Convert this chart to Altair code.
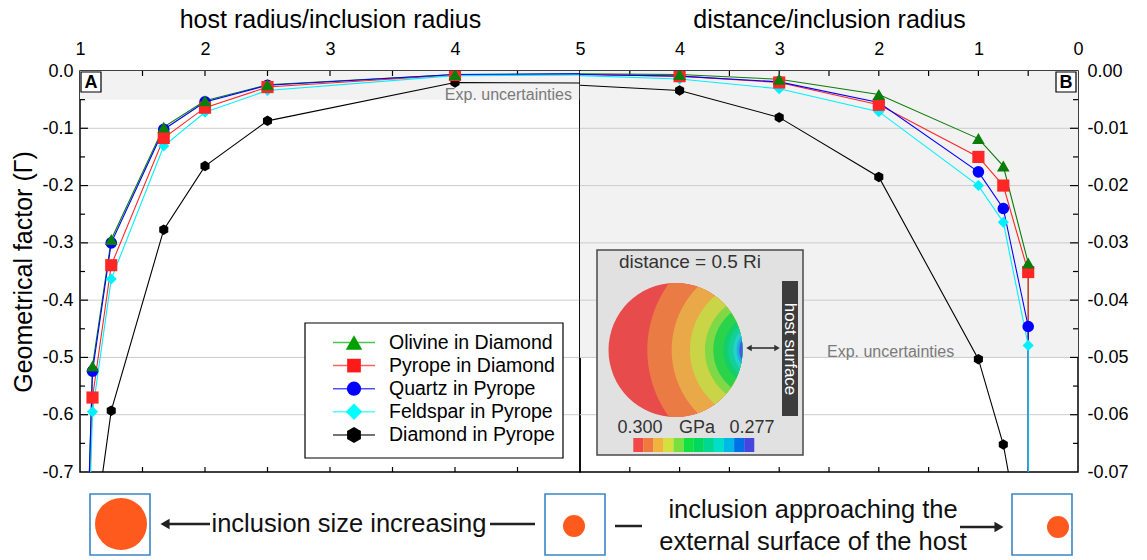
import altair as alt
import numpy as np
import pandas as pd

FONT = "Liberation Sans"

# ---------------- series definitions ----------------
series = ["Olivine in Diamond", "Pyrope in Diamond", "Quartz in Pyrope",
          "Feldspar in Pyrope", "Diamond in Pyrope"]
line_colors = ["#0a7d0a", "#ff2626", "#0000ff", "#00f0ff", "#000000"]
marker_colors = ["#00a000", "#ff1a1a", "#0000ff", "#00ffff", "#000000"]
legend_line_colors = ["#4cc34c", "#ff6060", "#5050ff", "#50ffff", "#444444"]
HEX = "M0,-1L0.866,-0.5L0.866,0.5L0,1L-0.866,0.5L-0.866,-0.5Z"
marker_shapes = ["triangle-up", "square", "circle", "diamond", HEX]
marker_sizes = [160, 110, 120, 160, 150]

# ---------------- panel A: host radius / inclusion radius ----------------
a_x = [1.05, 1.1, 1.25, 1.67, 2.0, 2.5, 4.0, 5.0]
a_olivine = [-0.88, -0.515, -0.294, -0.098, -0.052, -0.024, -0.006, -0.005]
a_pyrope = [-0.92, -0.570, -0.339, -0.117, -0.064, -0.028, -0.007, -0.006]
a_quartz = [-0.88, -0.524, -0.300, -0.102, -0.054, -0.025, -0.006, -0.005]
a_feldspar = [-0.97, -0.595, -0.363, -0.131, -0.072, -0.034, -0.008, -0.007]
a_x_diamond = [1.1, 1.25, 1.67, 2.0, 2.5, 4.0, 5.0]
a_diamond = [-0.83, -0.593, -0.277, -0.166, -0.087, -0.020, -0.021]

# ---------------- panel B: distance / inclusion radius ----------------
b_x = [5.0, 4.0, 3.0, 2.0, 1.0, 0.75, 0.5, 0.5]
b_olivine = [-0.0005, -0.0006, -0.00145, -0.0041, -0.0118, -0.0166, -0.0335, -0.2]
b_pyrope = [-0.0006, -0.0009, -0.0020, -0.0059, -0.0150, -0.0200, -0.0351, -0.2]
b_quartz = [-0.0006, -0.0009, -0.0019, -0.0055, -0.0176, -0.0240, -0.0446, -0.2]
b_feldspar = [-0.0008, -0.0014, -0.0031, -0.0071, -0.0200, -0.0264, -0.0479, -0.2]
b_x_diamond = [5.0, 4.0, 3.0, 2.0, 1.0, 0.75, 0.5]
b_diamond = [-0.0025, -0.0034, -0.0081, -0.0185, -0.0503, -0.0652, -0.089]

a_uncertainty = -0.05
b_uncertainty = -0.05

a_xlabels = [1, 2, 3, 4, 5]
b_xlabels = [4, 3, 2, 1, 0]
a_ylabels = [0.0, -0.1, -0.2, -0.3, -0.4, -0.5, -0.6, -0.7]
b_ylabels = [0.0, -0.01, -0.02, -0.03, -0.04, -0.05, -0.06, -0.07]
a_xticks = [1.5, 2, 2.5, 3, 3.5, 4, 4.5]
b_xticks = [4.5, 4, 3.5, 3, 2.5, 2, 1.5, 1, 0.5]
a_ymajor = [-0.1, -0.2, -0.3, -0.4, -0.5, -0.6]
a_yminor = [-0.05, -0.15, -0.25, -0.35, -0.45, -0.55, -0.65]
b_ymajor = [-0.01, -0.02, -0.03, -0.04, -0.05, -0.06]
b_yminor = [-0.005, -0.015, -0.025, -0.035, -0.045, -0.055, -0.065]

# inset (stress map) colours
colorbar_colors = ["#f24848", "#f07a3c", "#f0b33c", "#d4e03c", "#78e03c", "#10e040",
                   "#00d860", "#00d892", "#00e0c8", "#00b8e8", "#0070e8", "#4545e0"]
band_colors = ["#e84b4b", "#eb7b45", "#eaa948", "#c9d447", "#7fd947", "#2bd34a",
               "#12cf6a", "#14cf98", "#22d3c9", "#1faee2", "#3f5fd8"]
band_radii = [113.7, 89.3, 71.0, 56.0, 47.7, 37.7, 32.7, 27.7, 24.3, 21.7]

W_A, W_B, H = 500, 498, 401


def long_table(x_lists, y_lists, reverse_draw):
    rows = []
    for k, (s, xs, ys) in enumerate(zip(series, x_lists, y_lists)):
        for i, (x, y) in enumerate(zip(xs, ys)):
            rows.append({"series": s, "x": x, "g": y, "idx": i,
                         "draw": -k if reverse_draw else k})
    df = pd.DataFrame(rows)
    return df.sort_values(["draw", "idx"]).reset_index(drop=True)


xA_lists = [a_x, a_x, a_x, a_x, a_x_diamond]
yA_lists = [a_olivine, a_pyrope, a_quartz, a_feldspar, a_diamond]
xB_lists = [b_x, b_x, b_x, b_x, b_x_diamond]
yB_lists = [b_olivine, b_pyrope, b_quartz, b_feldspar, b_diamond]
linesA_df = long_table(xA_lists, yA_lists, False)
ptsA_df = long_table(xA_lists, yA_lists, True)
linesB_df = long_table(xB_lists, yB_lists, False)
ptsB_df = long_table(xB_lists, yB_lists, True)

ONE = pd.DataFrame({"k": [0]})


def rect(x0, x1, y0, y1, **kw):
    return alt.Chart(ONE).mark_rect(**kw).encode(
        x=alt.value(x0), x2=alt.value(x1), y=alt.value(y0), y2=alt.value(y1))


def rule(x0, x1, y0, y1, **kw):
    return alt.Chart(ONE).mark_rule(**kw).encode(
        x=alt.value(x0), x2=alt.value(x1), y=alt.value(y0), y2=alt.value(y1))


def text(x, y, s, **kw):
    kw.setdefault("font", FONT)
    kw.setdefault("baseline", "middle")
    return alt.Chart(ONE).mark_text(text=s, **kw).encode(x=alt.value(x), y=alt.value(y))


def sym(x, y, shape, size, color, **kw):
    return alt.Chart(ONE).mark_point(shape=shape, size=size, filled=True, color=color,
                                     opacity=1, strokeWidth=0, **kw).encode(
        x=alt.value(x), y=alt.value(y))


def lens_path(R, d, r, n=70):
    xi = (d * d + R * R - r * r) / (2 * d)
    yi = np.sqrt(max(R * R - xi * xi, 0.0))
    t1 = np.arctan2(-yi, xi - d)
    t2 = np.arctan2(yi, xi - d)
    ts = np.linspace(t1, t2 - 2 * np.pi, n)
    pts = [(d + r * np.cos(t), r * np.sin(t)) for t in ts]
    p2 = np.arctan2(yi, xi)
    p1 = np.arctan2(-yi, xi)
    ps = np.linspace(p2, p1, n)
    pts += [(R * np.cos(p), R * np.sin(p)) for p in ps]
    return "M" + "L".join(f"{x:.2f},{y:.2f}" for x, y in pts) + "Z"


hyphen_expr = "replace(format(datum.value, '{fmt}'), '\u2212', '-')"


def panel(ldf, pdf, xscale, yscale, xaxis, yaxis, W, xticks, ymajor, yminor, yside, unc):
    band = alt.Chart(pd.DataFrame({"y0": [0.0], "y1": [unc]})).mark_rect(color="#f2f2f2").encode(
        y=alt.Y("y0:Q", scale=yscale, axis=yaxis), y2="y1:Q", x=alt.value(0), x2=alt.value(W))
    grid = alt.Chart(pd.DataFrame({"t": ymajor})).mark_rule(color="#cccccc", strokeWidth=1).encode(
        y=alt.Y("t:Q", scale=yscale, axis=yaxis), x=alt.value(0), x2=alt.value(W))
    xt = pd.DataFrame({"t": xticks})
    ttop = alt.Chart(xt).mark_rule(color="black", strokeWidth=1.2).encode(
        x=alt.X("t:Q", scale=xscale, axis=xaxis), y=alt.value(0), y2=alt.value(5))
    tbot = alt.Chart(xt).mark_rule(color="black", strokeWidth=1.2).encode(
        x=alt.X("t:Q", scale=xscale, axis=xaxis), y=alt.value(H), y2=alt.value(H - 5))
    if yside == "left":
        xa0, xa1, xb1 = 0, 8, 5
    else:
        xa0, xa1, xb1 = W, W - 8, W - 5
    tmaj = alt.Chart(pd.DataFrame({"t": ymajor})).mark_rule(color="black", strokeWidth=1.2).encode(
        y=alt.Y("t:Q", scale=yscale, axis=yaxis), x=alt.value(xa0), x2=alt.value(xa1))
    tmin = alt.Chart(pd.DataFrame({"t": yminor})).mark_rule(color="black", strokeWidth=1.2).encode(
        y=alt.Y("t:Q", scale=yscale, axis=yaxis), x=alt.value(xa0), x2=alt.value(xb1))
    lines = alt.Chart(ldf).mark_line(strokeWidth=1.1, clip=True).encode(
        x=alt.X("x:Q", scale=xscale, axis=xaxis),
        y=alt.Y("g:Q", scale=yscale, axis=yaxis),
        color=alt.Color("series:N", scale=alt.Scale(domain=series, range=line_colors), legend=None),
        detail="series:N",
        order=alt.Order("idx:Q"),
    )
    pts = alt.Chart(pdf).transform_filter("datum.x < 4.99").mark_point(
        filled=True, opacity=1, strokeWidth=0, clip=True).encode(
        x=alt.X("x:Q", scale=xscale, axis=xaxis),
        y=alt.Y("g:Q", scale=yscale, axis=yaxis),
        color=alt.Color("series:N", scale=alt.Scale(domain=series, range=marker_colors), legend=None),
        shape=alt.Shape("series:N", scale=alt.Scale(domain=series, range=marker_shapes), legend=None),
        size=alt.Size("series:N", scale=alt.Scale(domain=series, range=marker_sizes), legend=None),
    )
    return [band, grid, ttop, tbot, tmaj, tmin, lines, pts]


# ---------- Panel A ----------
xsA = alt.Scale(domain=[1, 5], nice=False, zero=False)
ysA = alt.Scale(domain=[-0.7, 0], nice=False, zero=False)
xaxA = alt.Axis(orient="top", values=a_xlabels, title="host radius/inclusion radius", format="d",
                ticks=False, domain=False, grid=False, labelPadding=13, titlePadding=8,
                labelFlush=False, labelOverlap=False, labelBound=False)
yaxA = alt.Axis(orient="left", values=a_ylabels, title="Geometrical factor (Γ)",
                labelExpr=hyphen_expr.format(fmt=".1f"),
                ticks=False, domain=False, grid=False, labelPadding=7, titlePadding=5,
                labelFlush=False, labelOverlap=False)
layersA = panel(linesA_df, ptsA_df, xsA, ysA, xaxA, yaxA, W_A, a_xticks, a_ymajor, a_yminor,
                "left", a_uncertainty)

# "A" label, band label
layersA += [
    rect(1, 21, 1, 21, fill="white", stroke="black", strokeWidth=1.2),
    text(11, 12, "A", fontSize=18, fontWeight="bold", align="center"),
    text(492, 24, "Exp. uncertainties", fontSize=16, color="#7a7a7a", align="right"),
]

# legend box
leg_y0, leg_dy = 271.5, 23.1
layersA.append(rect(225, 483, 252, 387, fill="white", stroke="black", strokeWidth=1.2))
for i, s in enumerate(series):
    yy = leg_y0 + leg_dy * i
    layersA.append(rule(253, 295, yy, yy, color=legend_line_colors[i], strokeWidth=1.5))
    layersA.append(sym(274, yy, marker_shapes[i], marker_sizes[i] * 1.7, marker_colors[i]))
    layersA.append(text(309, yy, s, fontSize=19.5, align="left"))

# bottom row illustration (outside the plot area)
BOX = "#3a86c8"
ORANGE = "#ff5a1e"
layersA += [
    rect(10, 70, 423, 484, fill="white", stroke=BOX, strokeWidth=1.6),
    sym(41, 453, "circle", 2704, ORANGE),
    rect(465, 525, 423, 484, fill="white", stroke=BOX, strokeWidth=1.6),
    sym(494, 455, "circle", 484, ORANGE),
    rect(932, 992, 423, 484, fill="white", stroke=BOX, strokeWidth=1.6),
    sym(978, 456, "circle", 484, ORANGE),
    rule(84, 130, 453, 453, color="#222222", strokeWidth=2.5),
    sym(85, 453, "triangle-left", 110, "#222222"),
    text(269, 453, "inclusion size increasing", fontSize=25.5, align="center", color="#111111"),
    rule(410, 455, 453, 453, color="#222222", strokeWidth=2.5),
    rule(535, 562, 455, 455, color="#222222", strokeWidth=2.5),
    text(733, 439, "inclusion approaching the", fontSize=25.5, align="center", color="#111111"),
    text(733, 471, "external surface of the host", fontSize=25.5, align="center", color="#111111"),
    rule(880, 920, 456, 456, color="#222222", strokeWidth=2.5),
    sym(919, 456, "triangle-right", 110, "#222222"),
]

left = alt.layer(*layersA).properties(width=W_A, height=H)

# ---------- Panel B ----------
xsB = alt.Scale(domain=[0, 5], reverse=True, nice=False, zero=False)
ysB = alt.Scale(domain=[-0.07, 0], nice=False, zero=False)
xaxB = alt.Axis(orient="top", values=b_xlabels, title="distance/inclusion radius", format="d",
                ticks=False, domain=False, grid=False, labelPadding=13, titlePadding=8,
                labelFlush=False, labelOverlap=False, labelBound=False)
yaxB = alt.Axis(orient="right", values=b_ylabels, title="",
                labelExpr=hyphen_expr.format(fmt=".2f"),
                ticks=False, domain=False, grid=False, labelPadding=9,
                labelFlush=False, labelOverlap=False)
layersB = panel(linesB_df, ptsB_df, xsB, ysB, xaxB, yaxB, W_B, b_xticks, b_ymajor, b_yminor,
                "right", b_uncertainty)

layersB += [
    rect(476, 496, 1, 21, fill="white", stroke="black", strokeWidth=1.2),
    text(486, 12, "B", fontSize=18, fontWeight="bold", align="center"),
    text(247, 281, "Exp. uncertainties", fontSize=16, color="#7a7a7a", align="left"),
]

# inset: stress map inside the inclusion
ICX, ICY, IR, IFD = 95.5, 279.0, 67.0, 85.5
layersB += [
    rect(17, 223, 179, 384, fill="#e1e1e1", stroke="#4a4a4a", strokeWidth=1.5),
    text(110, 191, "distance = 0.5 Ri", fontSize=19, align="center", color="#333333"),
    sym(ICX, ICY, "circle", (2 * IR) ** 2, band_colors[0]),
]
for r, c in zip(band_radii, band_colors[1:]):
    layersB.append(sym(ICX, ICY, lens_path(IR, IFD, r), 4, c))
layersB += [
    rect(202, 218, 210, 345, fill="#3d3d3d"),
    text(210, 278, "host surface", fontSize=17, align="center", angle=90, color="white"),
    rule(168, 198, 277, 277, color="#333333", strokeWidth=1.6),
    sym(169, 277, "triangle-left", 40, "#333333"),
    sym(197, 277, "triangle-right", 40, "#333333"),
    text(60, 357, "0.300", fontSize=18, align="center", color="#333333"),
    text(117, 357, "GPa", fontSize=18, align="center", color="#333333"),
    text(172, 357, "0.277", fontSize=18, align="center", color="#333333"),
]
cb_x0, cb_w = 53.3, 10.08
for i, c in enumerate(colorbar_colors):
    layersB.append(rect(cb_x0 + i * cb_w, cb_x0 + (i + 1) * cb_w, 367, 381, fill=c))

right = alt.layer(*layersB).properties(width=W_B, height=H)

chart = alt.hconcat(left, right, spacing=0, bounds="flush").properties(
    padding={"left": 11, "top": 6, "right": 5, "bottom": 0}
).configure_view(
    stroke="black", strokeWidth=1.5
).configure_axis(
    labelFont=FONT, titleFont=FONT, labelFontSize=18, titleFontSize=25,
    titleFontWeight="normal", labelColor="black", titleColor="black"
).configure_text(font=FONT)

chart.save("out.html", embed_options={"renderer": "svg", "actions": False})
